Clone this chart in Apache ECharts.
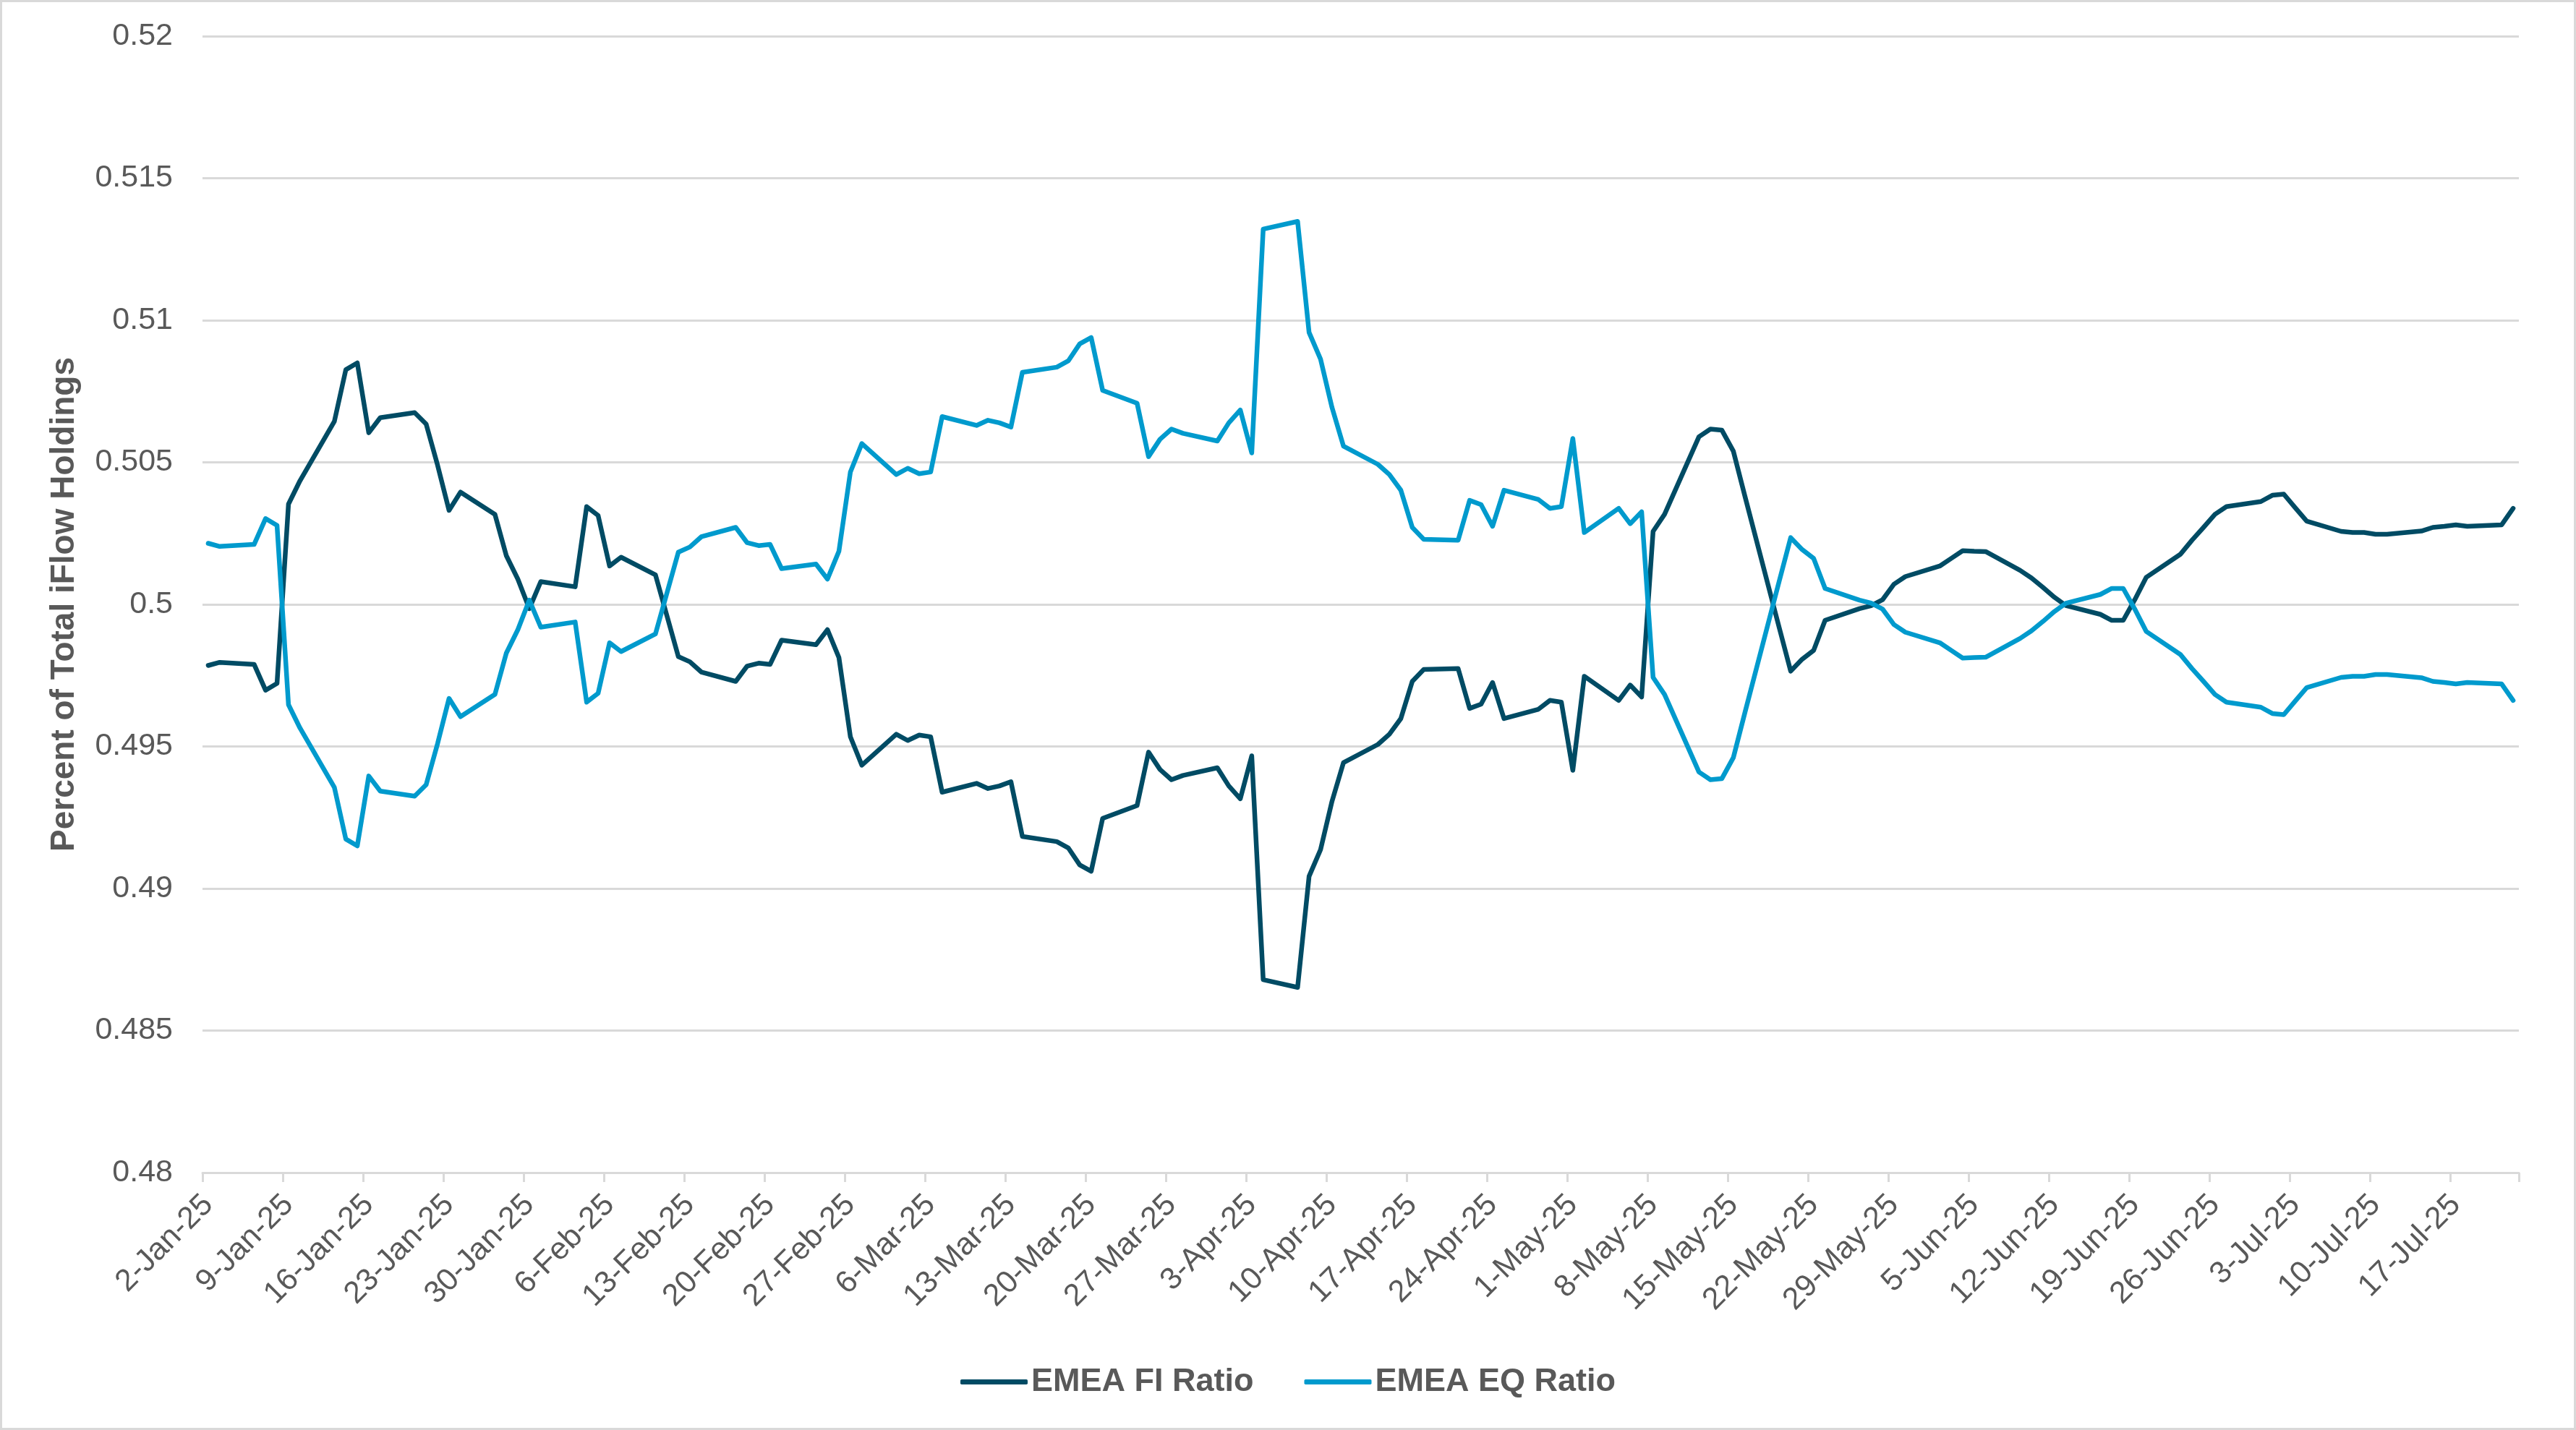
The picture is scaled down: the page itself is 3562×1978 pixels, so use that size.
<!DOCTYPE html>
<html>
<head>
<meta charset="utf-8">
<script src="https://cdn.jsdelivr.net/npm/echarts@6/dist/echarts.min.js"></script>
<style>
html,body{margin:0;padding:0;background:#ffffff;}
#wrap{position:relative;width:3562px;height:1978px;}
#c{position:absolute;left:0;top:0;width:3562px;height:1978px;}
#frame{position:absolute;left:0;top:0;width:3562px;height:1978px;box-sizing:border-box;border:3px solid #D9D9D9;pointer-events:none;}
</style>
</head>
<body>
<div id="wrap"><div id="c"></div><div id="frame"></div></div>
<script>
// Axis range (calendar days shown on the axis, weekdays carry data)
const firstDay = [2025, 0, 2];
const lastDay = [2025, 6, 22];
const monthNames = ['Jan','Feb','Mar','Apr','May','Jun','Jul','Aug','Sep','Oct','Nov','Dec'];
const seriesNames = ['EMEA FI Ratio', 'EMEA EQ Ratio'];

// Values for each weekday, 2-Jan-25 .. 22-Jul-25
const fiRatio = [
  0.49785, 0.49796,
  0.49789, 0.49698, 0.49722, 0.50353, 0.50435,
  0.50644, 0.50826, 0.50850, 0.50604, 0.50657,
  0.50675, 0.50635, 0.50490, 0.50331, 0.50395,
  0.50317, 0.50171, 0.50089, 0.49985, 0.50080,
  0.50062, 0.50344, 0.50313, 0.50135, 0.50166,
  0.50104, 0.49960, 0.49816, 0.49798, 0.49762,
  0.49729, 0.49783, 0.49793, 0.49789, 0.49874,
  0.49858, 0.49911, 0.49813, 0.49534, 0.49434,
  0.49543, 0.49521, 0.49540, 0.49534, 0.49339,
  0.49370, 0.49352, 0.49361, 0.49376, 0.49183,
  0.49165, 0.49143, 0.49083, 0.49061, 0.49247,
  0.49292, 0.49480, 0.49419, 0.49383, 0.49398,
  0.49425, 0.49361, 0.49316, 0.49467, 0.48679,
  0.48652, 0.49043, 0.49137, 0.49307, 0.49443,
  0.49507, 0.49543, 0.49598, 0.49729, 0.49771,
  0.49774, 0.49634, 0.49649, 0.49725, 0.49598,
  0.49631, 0.49662, 0.49656, 0.49416, 0.49747,
  0.49662, 0.49716, 0.49674, 0.50257, 0.50317,
  0.50590, 0.50617, 0.50613, 0.50539, 0.50382,
  0.49918, 0.49765, 0.49807, 0.49838, 0.49944,
  0.49985, 0.49995, 0.50016, 0.50071, 0.50098,
  0.50135, 0.50162, 0.50189, 0.50187, 0.50186,
  0.50120, 0.50093, 0.50060, 0.50025, 0.49996,
  0.49965, 0.49944, 0.49944, 0.50016, 0.50095,
  0.50177, 0.50226, 0.50271, 0.50317, 0.50344,
  0.50362, 0.50384, 0.50388, 0.50340, 0.50293,
  0.50257, 0.50253, 0.50253, 0.50247, 0.50247,
  0.50258, 0.50271, 0.50275, 0.50280, 0.50275,
  0.50280, 0.50338
];

const eqRatio = [
  0.50215, 0.50204,
  0.50211, 0.50302, 0.50278, 0.49647, 0.49565,
  0.49356, 0.49174, 0.49150, 0.49396, 0.49343,
  0.49325, 0.49365, 0.49510, 0.49669, 0.49605,
  0.49683, 0.49829, 0.49911, 0.50015, 0.49920,
  0.49938, 0.49656, 0.49687, 0.49865, 0.49834,
  0.49896, 0.50040, 0.50184, 0.50202, 0.50238,
  0.50271, 0.50217, 0.50207, 0.50211, 0.50126,
  0.50142, 0.50089, 0.50187, 0.50466, 0.50566,
  0.50457, 0.50479, 0.50460, 0.50466, 0.50661,
  0.50630, 0.50648, 0.50639, 0.50624, 0.50817,
  0.50835, 0.50857, 0.50917, 0.50939, 0.50753,
  0.50708, 0.50520, 0.50581, 0.50617, 0.50602,
  0.50575, 0.50639, 0.50684, 0.50533, 0.51321,
  0.51348, 0.50957, 0.50863, 0.50693, 0.50557,
  0.50493, 0.50457, 0.50402, 0.50271, 0.50229,
  0.50226, 0.50366, 0.50351, 0.50275, 0.50402,
  0.50369, 0.50338, 0.50344, 0.50584, 0.50253,
  0.50338, 0.50284, 0.50326, 0.49743, 0.49683,
  0.49410, 0.49383, 0.49387, 0.49461, 0.49618,
  0.50082, 0.50235, 0.50193, 0.50162, 0.50056,
  0.50015, 0.50005, 0.49984, 0.49929, 0.49902,
  0.49865, 0.49838, 0.49811, 0.49813, 0.49814,
  0.49880, 0.49907, 0.49940, 0.49975, 0.50004,
  0.50035, 0.50056, 0.50056, 0.49984, 0.49905,
  0.49823, 0.49774, 0.49729, 0.49683, 0.49656,
  0.49638, 0.49616, 0.49612, 0.49660, 0.49707,
  0.49743, 0.49747, 0.49747, 0.49753, 0.49753,
  0.49742, 0.49729, 0.49725, 0.49720, 0.49725,
  0.49720, 0.49662
];

// Build the calendar-day category table
const categories = [];
const fiData = [];
const eqData = [];
let k = 0;
const tEnd = Date.UTC(lastDay[0], lastDay[1], lastDay[2]);
for (let t = Date.UTC(firstDay[0], firstDay[1], firstDay[2]); t <= tEnd; t += 86400000) {
  const d = new Date(t);
  const wd = d.getUTCDay();
  categories.push(d.getUTCDate() + '-' + monthNames[d.getUTCMonth()] + '-' + String(d.getUTCFullYear()).slice(2));
  if (wd !== 0 && wd !== 6 && k < fiRatio.length) {
    fiData.push(fiRatio[k]);
    eqData.push(eqRatio[k]);
    k++;
  } else {
    fiData.push(null);
    eqData.push(null);
  }
}

const textColor = '#595959';
const fontFam = '"Liberation Sans", Arial, sans-serif';
const chart = echarts.init(document.getElementById('c'), null, {renderer: 'canvas'});
chart.setOption({
  backgroundColor: '#ffffff',
  animation: false,
  grid: {left: 280, right: 79, top: 50, bottom: 356, containLabel: false},
  legend: {
    data: seriesNames,
    left: 'center',
    top: 1884,
    icon: 'roundRect',
    itemWidth: 93,
    itemHeight: 7,
    itemGap: 70,
    textStyle: {color: textColor, fontSize: 45, fontWeight: 'bold', fontFamily: fontFam}
  },
  xAxis: {
    type: 'category',
    data: categories,
    boundaryGap: true,
    axisLine: {show: true, lineStyle: {color: '#D9D9D9', width: 3}},
    axisTick: {show: true, interval: 6, alignWithLabel: false, length: 13, lineStyle: {color: '#D9D9D9', width: 3}},
    axisLabel: {
      interval: 6,
      rotate: 45,
      margin: 38,
      color: textColor,
      fontSize: 43,
      fontFamily: fontFam
    },
    splitLine: {show: false}
  },
  yAxis: {
    type: 'value',
    min: 0.48,
    max: 0.52,
    interval: 0.005,
    name: 'Percent of Total iFlow Holdings',
    nameLocation: 'middle',
    nameGap: 168,
    nameTextStyle: {color: textColor, fontSize: 46, fontWeight: 'bold', fontFamily: fontFam},
    axisLine: {show: false},
    axisTick: {show: false},
    axisLabel: {
      margin: 41,
      color: textColor,
      fontSize: 43,
      fontFamily: fontFam,
      formatter: function (v) { return String(+v.toFixed(3)); }
    },
    splitLine: {show: true, lineStyle: {color: '#D9D9D9', width: 3}}
  },
  series: [
    {
      name: seriesNames[0],
      type: 'line',
      data: fiData,
      connectNulls: true,
      showSymbol: false,
      symbol: 'none',
      lineStyle: {color: '#004B64', width: 6.5, cap: 'round', join: 'round'},
      itemStyle: {color: '#004B64'}
    },
    {
      name: seriesNames[1],
      type: 'line',
      data: eqData,
      connectNulls: true,
      showSymbol: false,
      symbol: 'none',
      lineStyle: {color: '#009ACD', width: 6.5, cap: 'round', join: 'round'},
      itemStyle: {color: '#009ACD'}
    }
  ]
});
</script>
</body>
</html>
